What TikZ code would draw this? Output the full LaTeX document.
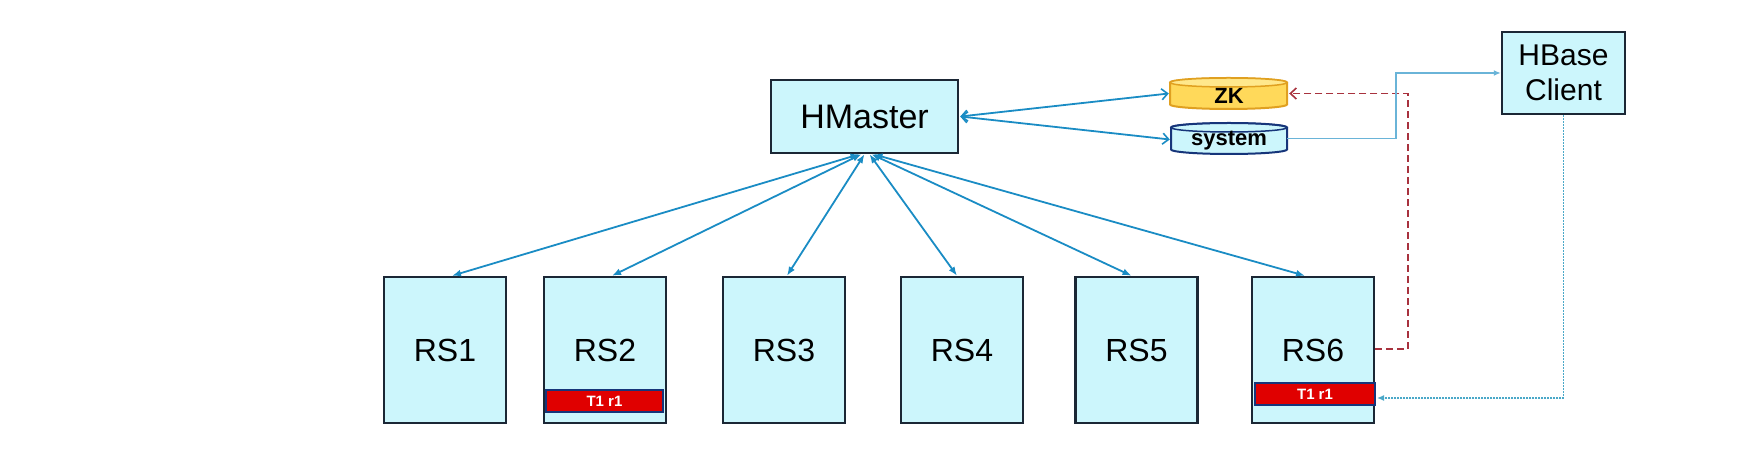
\documentclass[tikz,border=0pt]{standalone}
\usepackage{fontspec}
\setmainfont{Liberation Sans}
\usetikzlibrary{arrows.meta,calc}
\definecolor{boxfill}{HTML}{CCF6FC}
\definecolor{boxline}{HTML}{1B2735}
\definecolor{arr}{HTML}{1A8CC4}
\definecolor{thinblue}{HTML}{6AB4D8}
\definecolor{dotblue}{HTML}{4AA8C8}
\definecolor{dashred}{HTML}{A8323E}
\definecolor{zkfill}{HTML}{FFD95A}
\definecolor{zktop}{HTML}{FFE88C}
\definecolor{zkline}{HTML}{E0A020}
\definecolor{sysline}{HTML}{16357A}
\definecolor{barred}{HTML}{E00000}
\tikzset{
  x=1pt,y=1pt,
  bigbox/.style={draw=boxline, line width=2.5pt, fill=boxfill, inner sep=0pt,
    font=\fontsize{32}{35}\selectfont, align=center},
  rsbox/.style={bigbox, minimum width=122, minimum height=146},
  bar/.style={draw=sysline, line width=2pt, fill=barred, inner sep=0pt,
    minimum height=22, font=\fontsize{15}{17}\selectfont\bfseries, text=white},
  link/.style={draw=arr, line width=1.8pt,
    {Latex[length=9pt,width=7pt]}-{Latex[length=9pt,width=7pt]}},
  dblink/.style={draw=arr, line width=1.8pt,
    {Straight Barb[length=6pt,width=11pt,line width=1.6pt]}-{Straight Barb[length=6pt,width=11pt,line width=1.6pt]}},
  cyltext/.style={font=\fontsize{22}{24}\selectfont\bfseries},
}
\begin{document}
\begin{tikzpicture}
\useasboundingbox (0,0) rectangle (1749,458);
% main nodes
\node[bigbox, minimum width=187, minimum height=73, font=\fontsize{34}{38}\selectfont] (hm) at (864.5,341.5) {HMaster};
\node[bigbox, minimum width=123, minimum height=82, font=\fontsize{30}{35}\selectfont] (cl) at (1563.5,385) {HBase\\Client};
\node[rsbox] (rs1) at (445,108) {RS1};
\node[rsbox] (rs2) at (605,108) {RS2};
\node[rsbox] (rs3) at (784,108) {RS3};
\node[rsbox] (rs4) at (962,108) {RS4};
\node[rsbox] (rs5) at (1136.5,108) {RS5};
\node[rsbox] (rs6) at (1313,108) {RS6};
\node[bar, minimum width=117] (b2) at (604.5,56.5) {T1 r1};
\node[bar, minimum width=120] (b6) at (1315,64) {T1 r1};
% ZK cylinder
\filldraw[fill=zkfill, draw=zkline, line width=2pt]
  (1170,375.5) -- (1170,353.5) arc[start angle=180,end angle=360,x radius=58.5,y radius=4.5]
  -- (1287,375.5) arc[start angle=0,end angle=180,x radius=58.5,y radius=4.5] -- cycle;
\filldraw[fill=zktop, draw=zkline, line width=1.5pt] (1228.5,375.5) ellipse[x radius=58.5,y radius=4.5];
\node[minimum width=117, minimum height=31, inner sep=0pt] (zk) at (1228.5,364.5) {};
\node[cyltext] at (1229,362) {ZK};
% system cylinder
\filldraw[fill=boxfill, draw=sysline, line width=2pt]
  (1171,330.5) -- (1171,308.5) arc[start angle=180,end angle=360,x radius=58,y radius=4.5]
  -- (1287,330.5) arc[start angle=0,end angle=180,x radius=58,y radius=4.5] -- cycle;
\draw[draw=sysline, line width=1.5pt] (1229,330.5) ellipse[x radius=58,y radius=4.5];
\node[minimum width=116, minimum height=31, inner sep=0pt] (sys) at (1229,319.5) {};
\node[cyltext] at (1229,317) {system};
% HMaster <-> ZK / system
\draw[dblink] ($(hm.east)+(1,0)$) -- ($(zk.west)+(-1,0)$);
\draw[dblink] ($(hm.east)+(1,0)$) -- ($(sys.west)+(-1,-1)$);
% HMaster <-> RS
\draw[link] ($(hm.south)+(-5,0)$) -- ($(rs1.north)+(7,0)$);
\draw[link] ($(hm.south)+(-3,0)$) -- ($(rs2.north)+(7,0)$);
\draw[link] ($(hm.south)+(0,0)$) -- ($(rs3.north)+(3,0)$);
\draw[link] ($(hm.south)+(5,0)$) -- ($(rs4.north)+(-5,0)$);
\draw[link] ($(hm.south)+(7,0)$) -- ($(rs5.north)+(-5,0)$);
\draw[link] ($(hm.south)+(9,0)$) -- ($(rs6.north)+(-8,0)$);
% RS6 -> ZK dashed
\coordinate (dr) at (1408,0);
\draw[dashred, line width=1.8pt, dash pattern=on 7pt off 4pt,
  -{Straight Barb[length=6pt,width=11pt,line width=1.6pt]}]
  (rs6.east |- 0,109) -- (dr |- 0,109) -- (dr |- zk.east) -- ($(zk.east)+(2,0)$);
% system -> client
\coordinate (sc) at (1396,0);
\draw[thinblue, line width=1.3pt, -{Latex[length=7pt,width=6pt]}]
  (sys.east) -- (sc |- sys.east) -- (sc |- cl.west) -- (cl.west);
% client -> RS6 bar, dotted
\draw[dotblue, line width=1.3pt, dash pattern=on 2pt off 1pt, -{Latex[length=7pt,width=6pt]}]
  (cl.south) -- (cl.south |- 0,60) -- ($(b6.east |- 0,60)+(1,0)$);
\end{tikzpicture}
\end{document}
